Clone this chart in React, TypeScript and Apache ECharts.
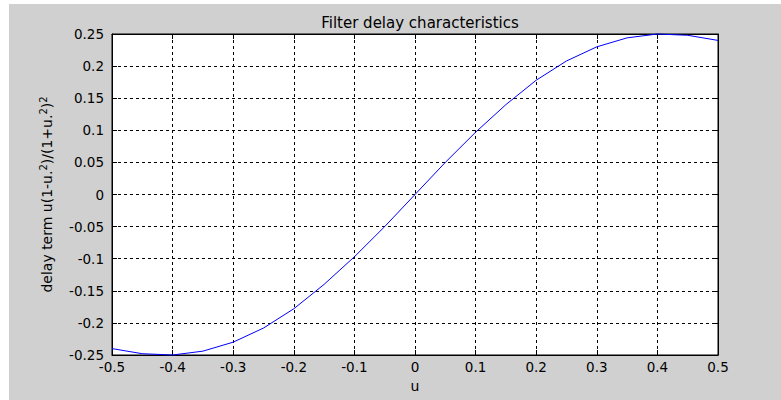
import React, { useEffect, useRef } from "react";
import * as echarts from "echarts";

const uValues = [
  -0.5, -0.45, -0.4, -0.35, -0.3, -0.25, -0.2, -0.15, -0.1, -0.05, 0,
  0.05, 0.1, 0.15, 0.2, 0.25, 0.3, 0.35, 0.4, 0.45, 0.5,
];
const delayValues = [
  -0.24, -0.248, -0.25, -0.244, -0.23, -0.208, -0.178, -0.14, -0.097, -0.05, 0,
  0.05, 0.097, 0.14, 0.178, 0.208, 0.23, 0.244, 0.25, 0.248, 0.24,
];
const titleText = "Filter delay characteristics";
const xLabel = "u";
const yLabel = "delay term u(1-u.{sup|2})/(1+u.{sup|2}){sup|2}";

const FONT = "'DejaVu Sans', sans-serif";

const fmt = (v: number) => String(parseFloat(v.toFixed(2)));

export default function App() {
  const ref = useRef<HTMLDivElement>(null);
  useEffect(() => {
    if (!ref.current) return;
    const chart = echarts.init(ref.current, undefined, { renderer: "svg" });
    const gridLine = { show: true, lineStyle: { color: "#000", type: [3, 3] as any, width: 1 } };
    const tickIn = { show: true, inside: true, length: 5, lineStyle: { color: "#000" } };
    const axisLine = { show: true, onZero: false, lineStyle: { color: "#000" } };
    chart.setOption({
      animation: false,
      backgroundColor: "#ffffff",
      graphic: [
        {
          type: "rect",
          z: -10,
          silent: true,
          shape: { x: 9, y: 4, width: 772, height: 396 },
          style: { fill: "#d0d0d0" },
        },
      ],
      title: {
        text: titleText,
        left: 415,
        textAlign: "center",
        top: 10,
        textStyle: { fontFamily: FONT, fontSize: 15, fontWeight: "normal", color: "#000" },
      },
      grid: {
        left: 112,
        right: 63,
        top: 34,
        bottom: 45,
        show: true,
        backgroundColor: "#ffffff",
        borderColor: "#000",
        borderWidth: 1,
      },
      xAxis: [
        {
          type: "value",
          min: -0.5,
          max: 0.5,
          interval: 0.1,
          name: xLabel,
          nameLocation: "middle",
          nameGap: 23,
          nameTextStyle: { fontFamily: FONT, fontSize: 14, color: "#000" },
          axisLine,
          axisTick: tickIn,
          axisLabel: { formatter: fmt, fontFamily: FONT, fontSize: 13.5, color: "#000", margin: 5 },
          splitLine: gridLine,
        },
        {
          type: "value",
          position: "top",
          min: -0.5,
          max: 0.5,
          interval: 0.1,
          axisLine,
          axisTick: tickIn,
          axisLabel: { show: false },
          splitLine: { show: false },
        },
      ],
      yAxis: [
        {
          type: "value",
          min: -0.25,
          max: 0.25,
          interval: 0.05,
          name: yLabel,
          nameLocation: "middle",
          nameGap: 57,
          nameTextStyle: {
            fontFamily: FONT,
            fontSize: 14,
            color: "#000",
            rich: {
              sup: { fontFamily: FONT, fontSize: 10, color: "#000", padding: [0, 0, 7, 0] },
            },
          },
          axisLine,
          axisTick: tickIn,
          axisLabel: { formatter: fmt, fontFamily: FONT, fontSize: 13.5, color: "#000", margin: 8 },
          splitLine: gridLine,
        },
        {
          type: "value",
          position: "right",
          min: -0.25,
          max: 0.25,
          interval: 0.05,
          axisLine,
          axisTick: tickIn,
          axisLabel: { show: false },
          splitLine: { show: false },
        },
      ],
      series: [
        {
          type: "line",
          data: uValues.map((u, i) => [u, delayValues[i]]),
          showSymbol: false,
          lineStyle: { color: "#0000ff", width: 1 },
          itemStyle: { color: "#0000ff" },
          clip: false,
        },
      ],
    });
    return () => chart.dispose();
  }, []);
  return (
    <div
      ref={ref}
      style={{ position: "fixed", left: 0, top: 0, width: 781, height: 400 }}
    />
  );
}
